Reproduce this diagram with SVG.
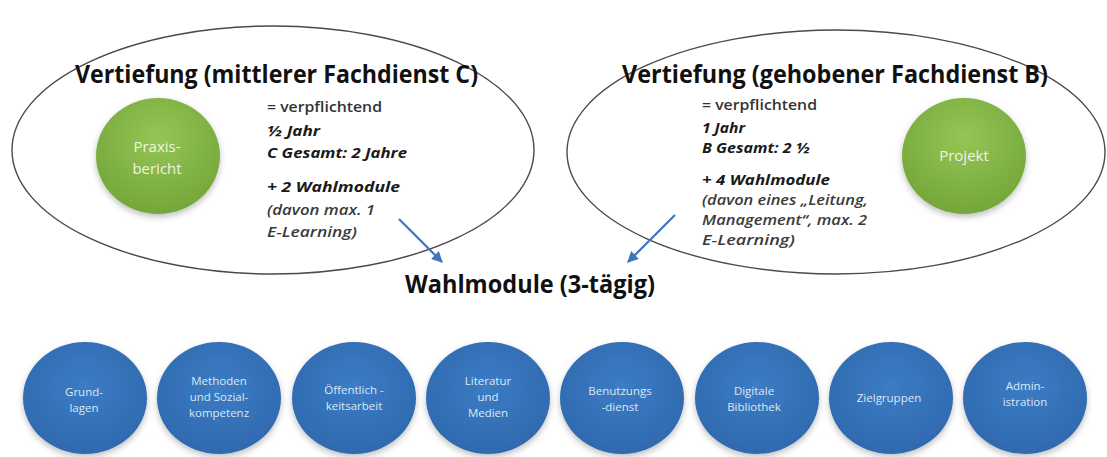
<svg xmlns="http://www.w3.org/2000/svg" width="1107" height="457" viewBox="0 0 1107 457">
<style>
.ell{fill:none;stroke:#4a4a4a;stroke-width:1.4}
.title{font-family:"Open Sans","DejaVu Sans",sans-serif;font-weight:bold;font-size:25px;fill:#111}
.txt{font-family:"Open Sans","DejaVu Sans",sans-serif;font-size:15px;fill:#333;font-weight:600}
.bi{font-family:"Open Sans","DejaVu Sans",sans-serif;font-size:15px;fill:#1a1a1a;font-weight:bold;font-style:italic}
.it{font-family:"Open Sans","DejaVu Sans",sans-serif;font-size:15px;fill:#3a3a3a;font-style:italic;font-weight:600}
.gtxt{font-family:"Open Sans","DejaVu Sans",sans-serif;font-size:15px;fill:#eef4e0;text-anchor:middle}
.btxt{font-family:"Open Sans","DejaVu Sans",sans-serif;font-size:11.5px;fill:#dde8f6;text-anchor:middle}
.arrow{stroke:#3d77bd;stroke-width:2.2;fill:none;marker-end:url(#ah)}
.blue{fill:url(#bg);filter:url(#sh)}
.green{fill:url(#gg);filter:url(#sh)}
</style>
<defs>
<filter id="sh" x="-20%" y="-20%" width="140%" height="150%">
<feDropShadow dx="0" dy="3" stdDeviation="3" flood-color="#000" flood-opacity="0.25"/>
</filter>
<radialGradient id="gg" cx="50%" cy="35%" r="65%">
<stop offset="0" stop-color="#95c555"/>
<stop offset="1" stop-color="#74a63a"/>
</radialGradient>
<radialGradient id="bg" cx="50%" cy="40%" r="65%">
<stop offset="0" stop-color="#3b7cc4"/>
<stop offset="1" stop-color="#2f68ad"/>
</radialGradient>
<marker id="ah" viewBox="0 0 10 10" refX="9" refY="5" markerWidth="5" markerHeight="5" orient="auto">
<path d="M0,0 L10,5 L0,10 z" fill="#3d77bd"/>
</marker>
</defs>
<rect width="1107" height="457" fill="#fff"/>
<g id="vertiefung-c">
<ellipse class="ell" cx="273" cy="150" rx="261" ry="124"/>
<text class="title" x="75" y="83" textLength="403" lengthAdjust="spacingAndGlyphs">Vertiefung (mittlerer Fachdienst C)</text>
<text class="txt" x="267" y="112" textLength="115" lengthAdjust="spacingAndGlyphs">= verpflichtend</text>
<text class="bi" x="267" y="136" textLength="53" lengthAdjust="spacingAndGlyphs">½ Jahr</text>
<text class="bi" x="267" y="158" textLength="140" lengthAdjust="spacingAndGlyphs">C Gesamt: 2 Jahre</text>
<text class="bi" x="267" y="192" textLength="133" lengthAdjust="spacingAndGlyphs">+ 2 Wahlmodule</text>
<text class="it" x="267" y="215" textLength="108" lengthAdjust="spacingAndGlyphs">(davon max. 1</text>
<text class="it" x="267" y="237" textLength="90" lengthAdjust="spacingAndGlyphs">E-Learning)</text>
</g>
<g id="praxisbericht">
<ellipse class="green" cx="158" cy="156" rx="62" ry="58"/>
<text class="gtxt" x="157" y="152">Praxis-</text>
<text class="gtxt" x="157" y="174">bericht</text>
</g>
<g id="vertiefung-b">
<ellipse class="ell" cx="836" cy="152" rx="269" ry="122"/>
<text class="title" x="622" y="83" textLength="426" lengthAdjust="spacingAndGlyphs">Vertiefung (gehobener Fachdienst B)</text>
<text class="txt" x="702" y="110" textLength="115" lengthAdjust="spacingAndGlyphs">= verpflichtend</text>
<text class="bi" x="702" y="133" textLength="43" lengthAdjust="spacingAndGlyphs">1 Jahr</text>
<text class="bi" x="702" y="153" textLength="108" lengthAdjust="spacingAndGlyphs">B Gesamt: 2 ½</text>
<text class="bi" x="702" y="185" textLength="128" lengthAdjust="spacingAndGlyphs">+ 4 Wahlmodule</text>
<text class="it" x="702" y="205" textLength="166" lengthAdjust="spacingAndGlyphs">(davon eines „Leitung,</text>
<text class="it" x="702" y="225" textLength="165" lengthAdjust="spacingAndGlyphs">Management“, max. 2</text>
<text class="it" x="702" y="245" textLength="93" lengthAdjust="spacingAndGlyphs">E-Learning)</text>
</g>
<g id="projekt">
<ellipse class="green" cx="964" cy="156" rx="62" ry="58"/>
<text class="gtxt" x="964" y="161">Projekt</text>
</g>
<g id="wahlmodule">
<text class="title" x="405" y="293" textLength="250" lengthAdjust="spacingAndGlyphs">Wahlmodule (3-tägig)</text>
</g>
<g id="connectors">
<line class="arrow" x1="399" y1="219" x2="442" y2="262"/>
<line class="arrow" x1="675" y1="215" x2="628" y2="262"/>
</g>
<g id="grundlagen"><ellipse class="blue" cx="85" cy="398" rx="62" ry="56"/><text class="btxt" x="84" y="396">Grund-</text><text class="btxt" x="84" y="412">lagen</text></g>
<g id="methoden"><ellipse class="blue" cx="219" cy="398" rx="62" ry="56"/><text class="btxt" x="219" y="385">Methoden</text><text class="btxt" x="219" y="401">und Sozial-</text><text class="btxt" x="219" y="417">kompetenz</text></g>
<g id="oeffentlichkeit"><ellipse class="blue" cx="354" cy="398" rx="62" ry="56"/><text class="btxt" x="354" y="394">Öffentlich -</text><text class="btxt" x="354" y="410">keitsarbeit</text></g>
<g id="literatur"><ellipse class="blue" cx="488" cy="398" rx="62" ry="56"/><text class="btxt" x="488" y="385">Literatur</text><text class="btxt" x="488" y="401">und</text><text class="btxt" x="488" y="417">Medien</text></g>
<g id="benutzung"><ellipse class="blue" cx="622" cy="398" rx="62" ry="56"/><text class="btxt" x="620" y="395">Benutzungs</text><text class="btxt" x="620" y="411">-dienst</text></g>
<g id="digitale"><ellipse class="blue" cx="757" cy="398" rx="62" ry="56"/><text class="btxt" x="754" y="395">Digitale</text><text class="btxt" x="754" y="411">Bibliothek</text></g>
<g id="zielgruppen"><ellipse class="blue" cx="891" cy="398" rx="62" ry="56"/><text class="btxt" x="889" y="402">Zielgruppen</text></g>
<g id="administration"><ellipse class="blue" cx="1025" cy="398" rx="62" ry="56"/><text class="btxt" x="1025" y="390">Admin-</text><text class="btxt" x="1025" y="406">istration</text></g>
</svg>
